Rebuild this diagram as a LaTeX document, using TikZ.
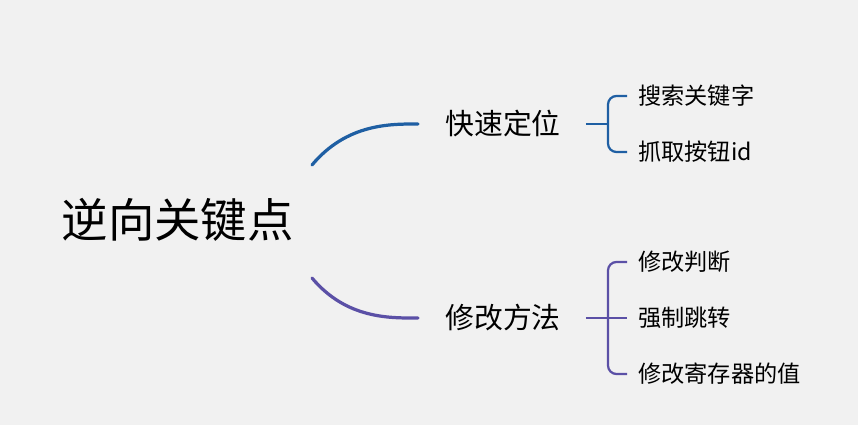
\documentclass[tikz,border=0pt]{standalone}
\usepackage{fontspec}
\newfontfamily\cjk{Noto Sans CJK SC}
\usepackage{xcolor}
\usetikzlibrary{positioning}
\definecolor{bgGray}{HTML}{F1F1F1}
\definecolor{lineBlue}{HTML}{1F5FA3}
\definecolor{linePurple}{HTML}{5B50A6}

\begin{document}
\begin{tikzpicture}[
  root/.style={font=\cjk\fontsize{33}{36}\selectfont, inner sep=0pt},
  branch/.style={font=\cjk\fontsize{20.5}{24}\selectfont, inner sep=0pt},
  leaf/.style={font=\cjk\fontsize{16.5}{20}\selectfont, inner sep=0pt, anchor=west},
  conn/.style={line width=2.3pt, line cap=round, shorten >=0.675cm},
  brk/.style={line width=1.6pt, rounded corners=6pt}
]
\fill[bgGray] (0,0) rectangle (21.45,10.625);
\useasboundingbox (0,0) rectangle (21.45,10.625);

\node[root] (root) at (4.44, 5.125) {逆向关键点};

\node[branch] (locate) at (12.575, 7.525) {快速定位};
\node[branch] (modify) at (12.575, 2.675) {修改方法};

\node[leaf] (search) at (15.95, 8.225) {搜索关键字};
\node[leaf] (grab)   at (15.95, 6.825) {抓取按钮id};

\node[leaf] (judge)  at (15.95, 4.075) {修改判断};
\node[leaf] (jump)   at (15.95, 2.675) {强制跳转};
\node[leaf] (reg)    at (15.95, 1.275) {修改寄存器的值};

% curves from the root
\coordinate (upStart)  at (7.8, 6.5);
\coordinate (lowStart) at (7.8, 3.675);
\draw[conn, lineBlue]   (upStart)  to[out=50,  in=180] (locate.west);
\draw[conn, linePurple] (lowStart) to[out=-50, in=180] (modify.west);

% brackets
\coordinate (locJ) at (15.2, 7.525);
\coordinate (modJ) at (15.2, 2.675);
\draw[brk, lineBlue, shorten <=0.625cm] (locate.east) -- (locJ);
\draw[brk, lineBlue, shorten <=0.275cm, shorten >=0.275cm]
  (search.west) -| (locJ) |- (grab.west);
\draw[brk, linePurple, shorten <=0.625cm, shorten >=0.275cm] (modify.east) -- (jump.west);
\draw[brk, linePurple, shorten <=0.275cm, shorten >=0.275cm]
  (judge.west) -| (modJ) |- (reg.west);
\end{tikzpicture}
\end{document}
